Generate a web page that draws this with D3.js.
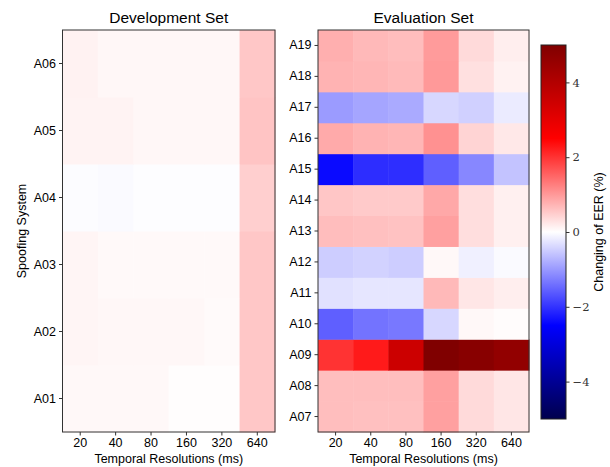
<!DOCTYPE html>
<html>
<head>
<meta charset="utf-8">
<script src="https://cdn.jsdelivr.net/npm/d3@7"></script>
<style>
  body { margin: 0; background: #fff; }
  text { font-family: "Liberation Sans", Arial, sans-serif; fill: #000; }
  .cbar text { font-family: "DejaVu Serif", "Liberation Serif", serif; fill: #333; }
</style>
</head>
<body>
<div id="chart"></div>
<script>
// temporal resolutions (ms)
const resolutions = ["20", "40", "80", "160", "320", "640"];

// development set, rows A01..A06
const devSystems = ["A01", "A02", "A03", "A04", "A05", "A06"];
const devValues = [
  [0.07, 0.07, 0.07, 0.02, 0.02, 0.55],
  [0.10, 0.08, 0.08, 0.08, 0.05, 0.55],
  [0.10, 0.06, 0.06, 0.06, 0.06, 0.55],
  [-0.03, -0.05, -0.02, -0.02, -0.02, 0.47],
  [0.12, 0.12, 0.08, 0.08, 0.08, 0.58],
  [0.13, 0.08, 0.08, 0.08, 0.08, 0.55]
];

// evaluation set, rows A07..A19
const evalSystems = ["A07", "A08", "A09", "A10", "A11", "A12", "A13",
                     "A14", "A15", "A16", "A17", "A18", "A19"];
const evalValues = [
  [0.64, 0.62, 0.62, 0.93, 0.36, 0.25],
  [0.64, 0.64, 0.64, 0.93, 0.36, 0.25],
  [2.00, 2.25, 3.50, 5.00, 4.85, 4.65],
  [-1.57, -1.37, -1.32, -0.39, 0.07, 0.03],
  [-0.29, -0.25, -0.25, 0.69, 0.25, 0.17],
  [-0.49, -0.44, -0.49, 0.07, -0.15, -0.05],
  [0.65, 0.62, 0.60, 0.93, 0.32, 0.15],
  [0.56, 0.52, 0.52, 0.85, 0.32, 0.15],
  [-2.40, -2.06, -2.05, -1.57, -1.18, -0.59],
  [0.83, 0.75, 0.72, 1.08, 0.42, 0.23],
  [-0.98, -0.88, -0.83, -0.39, -0.46, -0.20],
  [0.75, 0.72, 0.68, 1.00, 0.30, 0.13],
  [0.78, 0.69, 0.65, 0.98, 0.36, 0.17]
];

const cbarTicks = [-4, -2, 0, 2, 4];

const width = 610, height = 467;

// matplotlib "seismic" colour map
const seismic = d3.scaleLinear()
  .domain([-5, -2.5, 0, 2.5, 5])
  .range(["rgb(0,0,77)", "rgb(0,0,255)", "rgb(255,255,255)", "rgb(255,0,0)", "rgb(128,0,0)"])
  .clamp(true);

const svg = d3.select("#chart")
  .append("svg")
    .attr("width", width)
    .attr("height", height);

function drawPanel(left, right, top, bottom, systems, values, title, showYLabel) {
  const x = d3.scaleBand().domain(resolutions).range([left, right]);
  const y = d3.scaleBand().domain(systems.slice().reverse()).range([top, bottom]);
  const g = svg.append("g");

  const cells = [];
  values.forEach((row, i) => row.forEach((v, j) => cells.push({sys: systems[i], res: resolutions[j], v: v})));

  g.selectAll("rect.cell")
    .data(cells)
    .enter()
    .append("rect")
      .attr("class", "cell")
      .attr("x", d => x(d.res))
      .attr("y", d => y(d.sys))
      .attr("width", x.bandwidth() + 0.5)
      .attr("height", y.bandwidth() + 0.5)
      .attr("fill", d => seismic(d.v));

  g.append("rect")
    .attr("x", left).attr("y", top)
    .attr("width", right - left).attr("height", bottom - top)
    .attr("fill", "none").attr("stroke", "#333").attr("stroke-width", 1);

  const xAxis = g.append("g")
    .attr("transform", "translate(0," + bottom + ")")
    .call(d3.axisBottom(x).tickSize(3.5).tickPadding(3));
  const yAxis = g.append("g")
    .attr("transform", "translate(" + left + ",0)")
    .call(d3.axisLeft(y).tickSize(3.5).tickPadding(3));
  [xAxis, yAxis].forEach(a => {
    a.select(".domain").remove();
    a.selectAll("line").attr("stroke", "#333");
    a.selectAll("text").attr("font-size", 12.5).style("font-family", "'Liberation Sans', Arial, sans-serif");
  });

  g.append("text")
    .attr("x", (left + right) / 2).attr("y", 23)
    .attr("text-anchor", "middle").attr("font-size", 15.5)
    .text(title);

  g.append("text")
    .attr("x", (left + right) / 2).attr("y", 463)
    .attr("text-anchor", "middle").attr("font-size", 12.5)
    .text("Temporal Resolutions (ms)");

  if (showYLabel) {
    g.append("text")
      .attr("transform", "translate(26," + (top + bottom) / 2 + ") rotate(-90)")
      .attr("text-anchor", "middle").attr("font-size", 12.5)
      .text("Spoofing System");
  }
}

drawPanel(62.5, 275, 30, 432, devSystems, devValues, "Development Set", true);
drawPanel(318, 529, 30, 432, evalSystems, evalValues, "Evaluation Set", false);

// colour bar
const cb = { left: 541, right: 566, top: 45, bottom: 419 };
const cy = d3.scaleLinear().domain([-5, 5]).range([cb.bottom, cb.top]);

const defs = svg.append("defs");
const grad = defs.append("linearGradient")
  .attr("id", "cbgrad")
  .attr("x1", 0).attr("y1", 1).attr("x2", 0).attr("y2", 0);
grad.selectAll("stop")
  .data(d3.range(0, 1.0001, 0.05))
  .enter()
  .append("stop")
    .attr("offset", d => d)
    .attr("stop-color", d => seismic(-5 + 10 * d));

const cbar = svg.append("g").attr("class", "cbar");
cbar.append("rect")
  .attr("x", cb.left).attr("y", cb.top)
  .attr("width", cb.right - cb.left).attr("height", cb.bottom - cb.top)
  .attr("fill", "url(#cbgrad)")
  .attr("stroke", "#222").attr("stroke-width", 1);

const cAxis = cbar.append("g")
  .attr("transform", "translate(" + cb.right + ",0)")
  .call(d3.axisRight(cy).tickValues(cbarTicks).tickSize(3.5).tickPadding(3)
    .tickFormat(d => d < 0 ? "\u2212" + Math.abs(d) : String(d)));
cAxis.select(".domain").remove();
cAxis.selectAll("line").attr("stroke", "#333");
cAxis.selectAll("text").attr("font-size", 11.5);

svg.append("text")
  .attr("transform", "translate(603," + (cb.top + cb.bottom) / 2 + ") rotate(-90)")
  .attr("text-anchor", "middle").attr("font-size", 12.5)
  .text("Changing of EER (%)");
</script>
</body>
</html>
